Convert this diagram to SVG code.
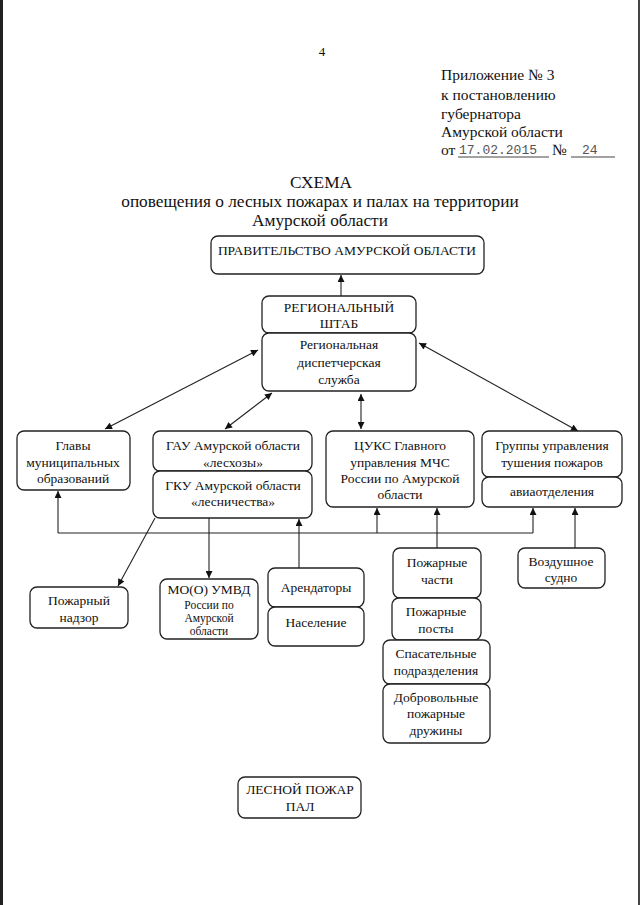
<svg xmlns="http://www.w3.org/2000/svg" width="640" height="905" viewBox="0 0 640 905">
<style>
text{font-family:"Liberation Serif","Times New Roman",serif;fill:#111;}
.t{font-size:13.5px;text-anchor:middle;}
.s{font-size:11.5px;text-anchor:middle;}
.h{font-size:15.5px;}
.ti{font-size:17.3px;text-anchor:middle;}
.box{fill:#fff;stroke:#222;stroke-width:1.3;}
.c{fill:none;stroke:#222;stroke-width:1.1;}
</style>
<defs>
<marker id="ah" viewBox="0 0 10 10" refX="10" refY="5" markerWidth="8" markerHeight="7" markerUnits="userSpaceOnUse" orient="auto-start-reverse">
<path d="M0,0 L10,5 L0,10 z" fill="#111"/>
</marker>
</defs>
<rect width="640" height="905" fill="#fff"/>
<rect x="0" y="0" width="3" height="905" fill="#222"/>
<rect x="638" y="0" width="2" height="905" fill="#444"/>

<text x="322" y="56" style="font-size:13px" text-anchor="middle">4</text>
<text class="h" x="441" y="80">Приложение № 3</text>
<text class="h" x="441" y="100">к постановлению</text>
<text class="h" x="441" y="119">губернатора</text>
<text class="h" x="441" y="137">Амурской области</text>
<text class="h" x="441" y="155">от</text>
<text x="459" y="154" style="font-family:'Liberation Mono',monospace;font-size:13px;fill:#555">17.02.2015</text>
<line x1="458" y1="157" x2="549" y2="157" stroke="#444" stroke-width="1"/>
<text class="h" x="552" y="155">№</text>
<text x="582" y="154" style="font-family:'Liberation Mono',monospace;font-size:13px;fill:#555">24</text>
<line x1="571" y1="157" x2="615" y2="157" stroke="#444" stroke-width="1"/>

<text class="ti" x="321" y="188">СХЕМА</text>
<text class="ti" x="320" y="207">оповещения о лесных пожарах и палах на территории</text>
<text class="ti" x="320" y="226">Амурской области</text>

<g id="connectors">
<path class="c" d="M341,296 V275" marker-end="url(#ah)"/>
<path class="c" d="M258,350 L105,429" marker-start="url(#ah)" marker-end="url(#ah)"/>
<path class="c" d="M272,393 L225,429" marker-start="url(#ah)" marker-end="url(#ah)"/>
<path class="c" d="M361,394 V429" marker-start="url(#ah)" marker-end="url(#ah)"/>
<path class="c" d="M419,343 L578,431" marker-start="url(#ah)" marker-end="url(#ah)"/>
<path class="c" d="M58,533 H533"/>
<path class="c" d="M58,533 V491" marker-end="url(#ah)"/>
<path class="c" d="M533,533 V508" marker-end="url(#ah)"/>
<path class="c" d="M377,533 V508" marker-end="url(#ah)"/>
<path class="c" d="M299,568 V519" marker-end="url(#ah)"/>
<path class="c" d="M437,548 V508" marker-end="url(#ah)"/>
<path class="c" d="M575,548 V508" marker-end="url(#ah)"/>
<path class="c" d="M209,518 V578" marker-end="url(#ah)"/>
<path class="c" d="M155,518 L118,586" marker-end="url(#ah)"/>
</g>

<g id="gov"><rect class="box" x="211" y="236" width="273" height="38" rx="7"/>
<text class="t" x="347" y="255">ПРАВИТЕЛЬСТВО АМУРСКОЙ ОБЛАСТИ</text></g>

<g id="shtab"><rect class="box" x="262" y="296" width="154" height="37" rx="7"/>
<text class="t" x="339" y="312">РЕГИОНАЛЬНЫЙ</text>
<text class="t" x="339" y="328">ШТАБ</text></g>

<g id="rds"><rect class="box" x="262" y="333" width="154" height="58" rx="7"/>
<text class="t" x="339" y="349">Региональная</text>
<text class="t" x="339" y="367">диспетчерская</text>
<text class="t" x="339" y="384">служба</text></g>

<g id="glavy"><rect class="box" x="17" y="431" width="113" height="59" rx="7"/>
<text class="t" x="73" y="450">Главы</text>
<text class="t" x="73" y="467">муниципальных</text>
<text class="t" x="73" y="483">образований</text></g>

<g id="gau"><rect class="box" x="153" y="431" width="159" height="40" rx="7"/>
<text class="t" x="233" y="450">ГАУ Амурской области</text>
<text class="t" x="233" y="467">«лесхозы»</text></g>

<g id="gku"><rect class="box" x="153" y="471" width="159" height="47" rx="7"/>
<text class="t" x="233" y="490">ГКУ Амурской области</text>
<text class="t" x="233" y="506">«лесничества»</text></g>

<g id="cuks"><rect class="box" x="326" y="431" width="148" height="76" rx="7"/>
<text class="t" x="400" y="450">ЦУКС Главного</text>
<text class="t" x="400" y="467">управления МЧС</text>
<text class="t" x="400" y="483">России по Амурской</text>
<text class="t" x="400" y="499">области</text></g>

<g id="gruppy"><rect class="box" x="482" y="431" width="140" height="46" rx="7"/>
<text class="t" x="552" y="450">Группы управления</text>
<text class="t" x="552" y="467">тушения пожаров</text></g>

<g id="avia"><rect class="box" x="482" y="477" width="140" height="30" rx="7"/>
<text class="t" x="552" y="496">авиаотделения</text></g>

<g id="nadzor"><rect class="box" x="30" y="587" width="98" height="41" rx="7"/>
<text class="t" x="79" y="605">Пожарный</text>
<text class="t" x="79" y="622">надзор</text></g>

<g id="umvd"><rect class="box" x="160" y="579" width="98" height="60" rx="7"/>
<text class="t" x="209" y="594">МО(О) УМВД</text>
<text class="s" x="209" y="609">России по</text>
<text class="s" x="209" y="622">Амурской</text>
<text class="s" x="209" y="635">области</text></g>

<g id="arend"><rect class="box" x="268" y="568" width="96" height="39" rx="7"/>
<text class="t" x="316" y="592">Арендаторы</text></g>

<g id="nasel"><rect class="box" x="268" y="607" width="96" height="39" rx="7"/>
<text class="t" x="316" y="627">Население</text></g>

<g id="pchasti"><rect class="box" x="393" y="548" width="88" height="50" rx="7"/>
<text class="t" x="437" y="567">Пожарные</text>
<text class="t" x="437" y="584">части</text></g>

<g id="pposty"><rect class="box" x="392" y="598" width="89" height="42" rx="7"/>
<text class="t" x="436" y="616">Пожарные</text>
<text class="t" x="436" y="633">посты</text></g>

<g id="spas"><rect class="box" x="383" y="640" width="107" height="44" rx="7"/>
<text class="t" x="436" y="658">Спасательные</text>
<text class="t" x="436" y="675">подразделения</text></g>

<g id="dobr"><rect class="box" x="383" y="684" width="107" height="59" rx="7"/>
<text class="t" x="436" y="702">Добровольные</text>
<text class="t" x="436" y="718">пожарные</text>
<text class="t" x="436" y="735">дружины</text></g>

<g id="vozd"><rect class="box" x="518" y="548" width="87" height="40" rx="7"/>
<text class="t" x="561" y="566">Воздушное</text>
<text class="t" x="561" y="582">судно</text></g>

<g id="pozhar"><rect class="box" x="238" y="777" width="123" height="41" rx="7"/>
<text class="t" x="300" y="794">ЛЕСНОЙ ПОЖАР</text>
<text class="t" x="300" y="811">ПАЛ</text></g>
</svg>
